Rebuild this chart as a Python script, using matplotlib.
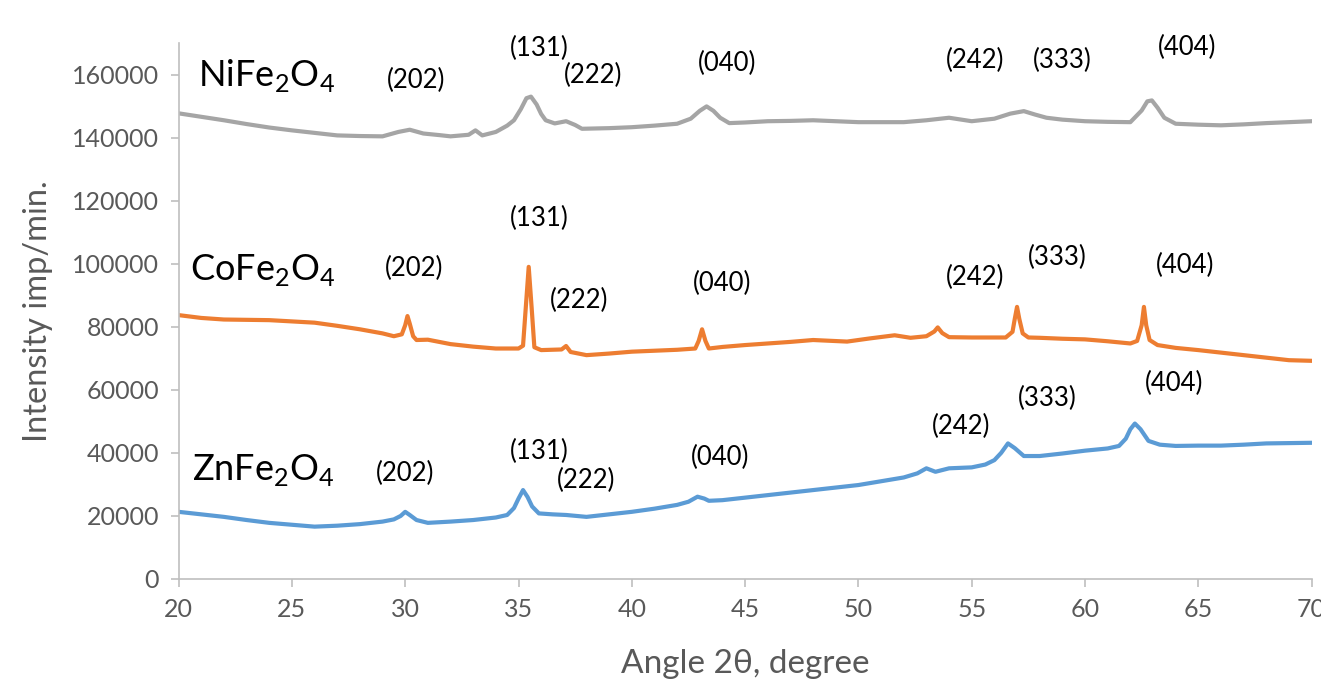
import matplotlib
matplotlib.use("Agg")
import matplotlib.pyplot as plt

# XRD patterns (2theta in degrees, intensity imp/min)
ni_angle = [20, 21, 22, 23, 24, 25, 26, 27, 28, 29, 29.7, 30.2, 30.8, 31.5, 32, 32.8, 33.1,
            33.4, 34, 34.5, 34.8, 35.1, 35.35, 35.55, 35.8, 36.0, 36.2, 36.6, 37.1, 37.5,
            37.8, 39, 40, 41, 42, 42.6, 43.0, 43.3, 43.6, 43.9, 44.3, 45, 46, 47, 48, 49,
            50, 51, 52, 53, 54, 55, 56, 56.7, 57.3, 57.8, 58.3, 59, 60, 61, 62, 62.5,
            62.75, 62.95, 63.2, 63.5, 64, 65, 66, 67, 68, 69, 70]
ni_counts = [147700, 146600, 145500, 144300, 143200, 142300, 141500, 140700, 140500, 140400,
             141800, 142500, 141300, 140800, 140400, 140900, 142300, 140700, 141800, 143800,
             145500, 149000, 152500, 153000, 150500, 147500, 145500, 144500, 145200, 144000,
             142800, 143000, 143300, 143800, 144400, 146000, 148500, 149900, 148500, 146300,
             144600, 144800, 145200, 145300, 145500, 145200, 144900, 144900, 144900, 145500,
             146300, 145200, 146000, 147600, 148400, 147300, 146300, 145700, 145200, 145000,
             144900, 148600, 151500, 151800, 149500, 146300, 144400, 144100, 143900, 144200,
             144600, 144900, 145200]

co_angle = [20, 21, 22, 23, 24, 25, 26, 27, 28, 29, 29.5, 29.85, 30.0, 30.1, 30.2, 30.35,
            30.5, 31, 32, 33, 34, 35, 35.2, 35.32, 35.45, 35.58, 35.7, 36, 36.9, 37.1, 37.3,
            38, 39, 40, 41, 42, 42.8, 42.95, 43.1, 43.25, 43.4, 44, 45, 46, 47, 48, 49.5,
            50.5, 51.6, 52.3, 53, 53.35, 53.5, 53.7, 54, 55, 56.5, 56.8, 56.9, 57.0, 57.1,
            57.25, 57.5, 58, 59, 60, 61, 62, 62.3, 62.5, 62.6, 62.7, 62.85, 63.2, 64, 65,
            66, 67, 68, 69, 70]
co_counts = [83700, 82800, 82300, 82200, 82100, 81700, 81300, 80300, 79200, 77900, 77000,
             77600, 80500, 83400, 81000, 77000, 75800, 75900, 74500, 73700, 73100, 73100,
             74000, 86000, 99000, 86000, 73500, 72600, 72800, 73900, 72000, 71000, 71500,
             72100, 72400, 72700, 73100, 75500, 79200, 75500, 73100, 73600, 74200, 74700,
             75200, 75800, 75300, 76300, 77300, 76500, 77000, 78500, 79800, 78000, 76700,
             76600, 76600, 78400, 82500, 86300, 82500, 77900, 76600, 76500, 76200, 76000,
             75400, 74700, 75500, 80500, 86300, 80500, 75800, 74200, 73300, 72600, 71800,
             71000, 70200, 69400, 69200]

zn_angle = [20, 21, 22, 23, 24, 25, 26, 27, 28, 29, 29.5, 29.8, 30.0, 30.2, 30.5, 31, 32,
            33, 34, 34.5, 34.8, 35.0, 35.2, 35.4, 35.6, 35.9, 36.5, 37.1, 38, 39, 40, 41,
            42, 42.5, 42.9, 43.2, 43.4, 44, 45, 46, 47, 48, 49, 50, 51, 52, 52.6, 53.0,
            53.4, 54, 55, 55.6, 56, 56.3, 56.6, 56.9, 57.3, 58, 59, 60, 61, 61.5, 61.8,
            62.0, 62.2, 62.45, 62.8, 63.3, 64, 65, 66, 67, 68, 69, 70]
zn_counts = [21300, 20500, 19700, 18700, 17800, 17200, 16600, 16900, 17400, 18200, 18900,
             20000, 21300, 20300, 18700, 17800, 18200, 18700, 19500, 20300, 22500, 25500,
             28200, 26000, 23000, 20800, 20500, 20300, 19700, 20500, 21300, 22300, 23500,
             24500, 26100, 25500, 24800, 25000, 25800, 26600, 27400, 28200, 29000, 29800,
             31000, 32200, 33500, 35100, 34000, 35100, 35400, 36300, 37700, 40000, 43000,
             41500, 39000, 39000, 39800, 40700, 41400, 42200, 44500, 47500, 49300, 47500,
             43800, 42600, 42200, 42300, 42300, 42600, 43000, 43100, 43200]

# sample names and where they sit
sample_names = ["NiFe$_2$O$_4$", "CoFe$_2$O$_4$", "ZnFe$_2$O$_4$"]
sample_pos = [(20.85, 159800), (20.5, 98000), (20.6, 34500)]

# Miller indices and their label anchors
hkl_labels = ["(202)", "(131)", "(222)", "(040)", "(242)", "(333)", "(404)"]
ni_hkl_pos = [(30.48, 158200), (35.9, 168300), (38.3, 159800), (44.2, 163600),
              (55.15, 164500), (59.0, 164500), (64.5, 168600)]
co_hkl_pos = [(30.39, 98600), (35.9, 114400), (37.67, 88400), (44.0, 93800),
              (55.15, 95700), (58.77, 102100), (64.42, 99500)]
zn_hkl_pos = [(30.0, 33600), (35.9, 40300), (37.98, 31400), (43.9, 38700),
              (54.53, 48500), (58.33, 57400), (63.95, 62100)]

plt.rcParams["font.family"] = ["Lato", "DejaVu Sans"]
plt.rcParams["mathtext.fontset"] = "custom"
plt.rcParams["mathtext.rm"] = "Lato"

fig = plt.figure(figsize=(13.21, 6.83), dpi=100)
ax = fig.add_axes([0.1352, 0.1523, 0.8577, 0.7847])

ax.plot(ni_angle, ni_counts, color="#A5A5A5", lw=3, solid_joinstyle="round")
ax.plot(co_angle, co_counts, color="#ED7D31", lw=3, solid_joinstyle="round")
ax.plot(zn_angle, zn_counts, color="#5B9BD5", lw=3, solid_joinstyle="round")

for name, (x, y) in zip(sample_names, sample_pos):
    ax.text(x, y, name, fontsize=26, color="black", ha="left", va="center")

for positions in (ni_hkl_pos, co_hkl_pos, zn_hkl_pos):
    for label, (x, y) in zip(hkl_labels, positions):
        ax.text(x, y, label, fontsize=18.5, color="black", ha="center", va="center")

ax.set_xlim(20, 70)
ax.set_ylim(0, 170000)
ax.set_xticks(range(20, 71, 5))
ax.set_yticks(range(0, 160001, 20000))

for side in ("top", "right"):
    ax.spines[side].set_visible(False)
for side in ("left", "bottom"):
    ax.spines[side].set_color("#BFBFBF")
    ax.spines[side].set_linewidth(1.2)

ax.tick_params(axis="both", direction="out", length=6, width=1.2, color="#BFBFBF",
               labelcolor="#595959", labelsize=18, pad=8)

ax.set_xlabel("Angle 2θ, degree", fontsize=24, color="#595959", labelpad=20)
ax.set_ylabel("Intensity imp/min.", fontsize=23.5, color="#595959", labelpad=14)

fig.savefig("out.png", dpi=100)
